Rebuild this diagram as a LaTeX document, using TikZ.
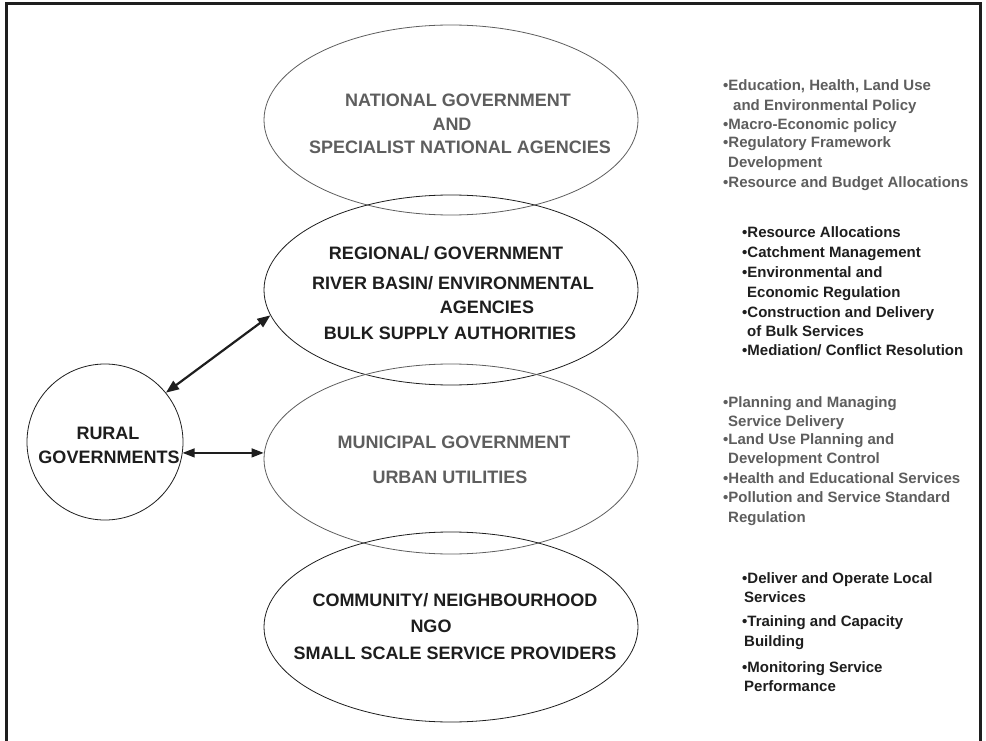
\documentclass[tikz,border=0pt]{standalone}
\usepackage{fontspec}
\setmainfont{Liberation Sans}
\usetikzlibrary{shapes.geometric,arrows.meta}
\definecolor{gr}{HTML}{5E5E5E}
\definecolor{bk}{HTML}{1E1E1E}
\begin{document}
\begin{tikzpicture}[x=1pt,y=-1pt,
  ell/.style={ellipse, minimum width=374pt, minimum height=190pt, inner sep=0pt, line width=0.8pt},
  big/.style={anchor=base, inner sep=0pt, font=\fontsize{18}{22}\selectfont\bfseries},
  lst/.style={anchor=base west, inner sep=0pt, font=\fontsize{15}{18}\selectfont\bfseries},
  tip/.style={Triangle[length=13pt,width=10pt]}]
\useasboundingbox (0,0) rectangle (986,741);
\fill[white] (0,0) rectangle (986,741);
\draw[line width=3pt, color=bk] (6,742) -- (6,4) -- (980,4) -- (980,742);

% ellipses
\node[ell, draw=gr] (national) at (451,120) {};
\node[ell, draw=bk] (regional) at (451,290) {};
\node[ell, draw=gr] (municipal) at (451,459) {};
\node[ell, draw=bk] (community) at (451,627) {};
\node[circle, draw=bk, minimum size=156pt, inner sep=0pt, line width=0.8pt] (rural) at (105,442) {};

% arrows
\draw[bk, line width=2.2pt, {Triangle[length=13pt,width=10pt]}-{Triangle[length=13pt,width=10pt]}] (rural.39) -- (regional.188);
\draw[bk, line width=1.3pt, {Triangle[length=12pt,width=9pt]}-{Triangle[length=12pt,width=9pt]}] (rural.-8) -- (municipal.west |- rural.-8);

% ellipse texts
\node[big, text=gr] (na1) at (458,106.5) {NATIONAL GOVERNMENT};
\node[big, text=gr] (na2) at (452,130.5) {AND};
\node[big, text=gr] (na3) at (460,153.5) {SPECIALIST NATIONAL AGENCIES};

\node[big, text=bk] (re1) at (446,259.5) {REGIONAL/ GOVERNMENT};
\node[big, text=bk] (re2) at (453,289.5) {RIVER BASIN/ ENVIRONMENTAL};
\node[big, text=bk] (re3) at (487,313.5) {AGENCIES};
\node[big, text=bk] (re4) at (450,339.5) {BULK SUPPLY AUTHORITIES};

\node[big, text=gr] (mu1) at (454,448.5) {MUNICIPAL GOVERNMENT};
\node[big, text=gr] (mu2) at (450,483.5) {URBAN UTILITIES};

\node[big, text=bk] (co1) at (455,606.5) {COMMUNITY/ NEIGHBOURHOOD};
\node[big, text=bk] (co2) at (431,632.5) {NGO};
\node[big, text=bk] (co3) at (455,659.5) {SMALL SCALE SERVICE PROVIDERS};

\node[big, text=bk] (ru1) at (108,439.5) {RURAL};
\node[big, text=bk] (ru2) at (109,463.5) {GOVERNMENTS};

% list 1 (national)
\node[lst, text=gr] (l1a) at (723,90.4) {•Education, Health, Land Use};
\node[lst, text=gr] (l1b) at (733,110.4) {and Environmental Policy};
\node[lst, text=gr] (l1c) at (723,129.4) {•Macro-Economic policy};
\node[lst, text=gr] (l1d) at (723,147.4) {•Regulatory Framework};
\node[lst, text=gr] (l1e) at (728,167.4) {Development};
\node[lst, text=gr] (l1f) at (723,187.4) {•Resource and Budget Allocations};

% list 2 (regional)
\node[lst, text=bk] (l2a) at (742,237.4) {•Resource Allocations};
\node[lst, text=bk] (l2b) at (742,257.4) {•Catchment Management};
\node[lst, text=bk] (l2c) at (742,277.4) {•Environmental and};
\node[lst, text=bk] (l2d) at (747,297.4) {Economic Regulation};
\node[lst, text=bk] (l2e) at (742,317.4) {•Construction and Delivery};
\node[lst, text=bk] (l2f) at (747,336.4) {of Bulk Services};
\node[lst, text=bk] (l2g) at (742,355.4) {•Mediation/ Conflict Resolution};

% list 3 (municipal)
\node[lst, text=gr] (l3a) at (723,407.4) {•Planning and Managing};
\node[lst, text=gr] (l3b) at (728,426.4) {Service Delivery};
\node[lst, text=gr] (l3c) at (723,444.4) {•Land Use Planning and};
\node[lst, text=gr] (l3d) at (728,463.4) {Development Control};
\node[lst, text=gr] (l3e) at (723,483.4) {•Health and Educational Services};
\node[lst, text=gr] (l3f) at (723,502.4) {•Pollution and Service Standard};
\node[lst, text=gr] (l3g) at (728,522.4) {Regulation};

% list 4 (community)
\node[lst, text=bk] (l4a) at (742,583.4) {•Deliver and Operate Local};
\node[lst, text=bk] (l4b) at (744,602.4) {Services};
\node[lst, text=bk] (l4c) at (742,626.4) {•Training and Capacity};
\node[lst, text=bk] (l4d) at (744,646.4) {Building};
\node[lst, text=bk] (l4e) at (742,672.4) {•Monitoring Service};
\node[lst, text=bk] (l4f) at (744,691.4) {Performance};
\end{tikzpicture}
\end{document}
